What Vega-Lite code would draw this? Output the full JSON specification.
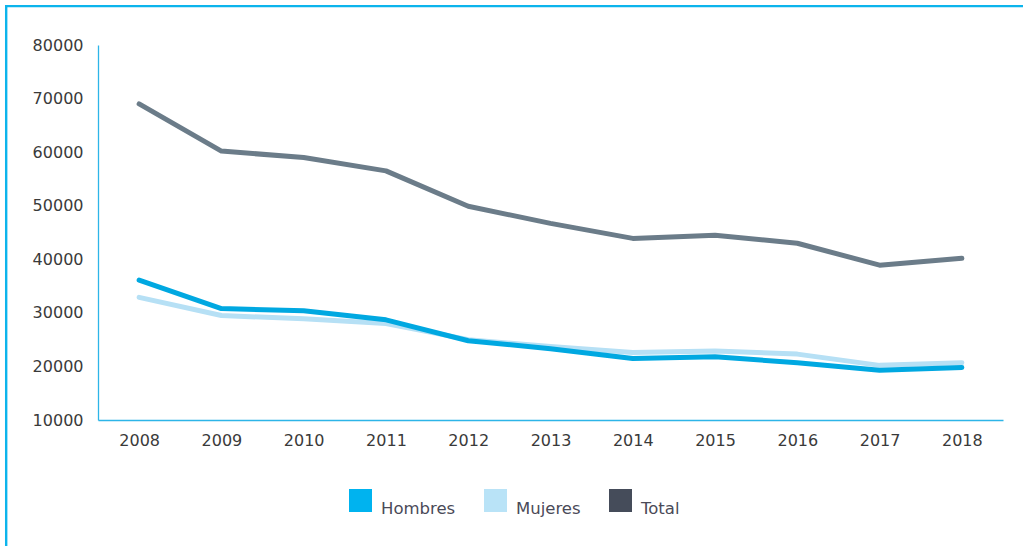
{
  "$schema": "https://vega.github.io/schema/vega-lite/v6.json",
  "autosize": {"type": "none"},
  "padding": {"top": 45, "left": 98, "right": 20, "bottom": 126},
  "width": 905,
  "height": 375,
  "background": "white",
  "config": {
    "view": {"stroke": null},
    "font": "DejaVu Sans"
  },
  "datasets": {
    "series": [
      {"year": 2008, "series": "Mujeres", "value": 32900},
      {"year": 2009, "series": "Mujeres", "value": 29500},
      {"year": 2010, "series": "Mujeres", "value": 28900},
      {"year": 2011, "series": "Mujeres", "value": 28000},
      {"year": 2012, "series": "Mujeres", "value": 25000},
      {"year": 2013, "series": "Mujeres", "value": 23700},
      {"year": 2014, "series": "Mujeres", "value": 22600},
      {"year": 2015, "series": "Mujeres", "value": 22900},
      {"year": 2016, "series": "Mujeres", "value": 22300},
      {"year": 2017, "series": "Mujeres", "value": 20200},
      {"year": 2018, "series": "Mujeres", "value": 20700},
      {"year": 2008, "series": "Hombres", "value": 36100},
      {"year": 2009, "series": "Hombres", "value": 30800},
      {"year": 2010, "series": "Hombres", "value": 30400},
      {"year": 2011, "series": "Hombres", "value": 28700},
      {"year": 2012, "series": "Hombres", "value": 24800},
      {"year": 2013, "series": "Hombres", "value": 23300},
      {"year": 2014, "series": "Hombres", "value": 21500},
      {"year": 2015, "series": "Hombres", "value": 21800},
      {"year": 2016, "series": "Hombres", "value": 20700},
      {"year": 2017, "series": "Hombres", "value": 19300},
      {"year": 2018, "series": "Hombres", "value": 19800},
      {"year": 2008, "series": "Total", "value": 69000},
      {"year": 2009, "series": "Total", "value": 60200},
      {"year": 2010, "series": "Total", "value": 59000},
      {"year": 2011, "series": "Total", "value": 56500},
      {"year": 2012, "series": "Total", "value": 49900},
      {"year": 2013, "series": "Total", "value": 46700},
      {"year": 2014, "series": "Total", "value": 43900},
      {"year": 2015, "series": "Total", "value": 44500},
      {"year": 2016, "series": "Total", "value": 43000},
      {"year": 2017, "series": "Total", "value": 38900},
      {"year": 2018, "series": "Total", "value": 40200}
    ],
    "legend": [
      {"grupo": "Hombres"},
      {"grupo": "Mujeres"},
      {"grupo": "Total"}
    ]
  },
  "layer": [
    {
      "data": {"values": [{"frame": "box"}]},
      "mark": {"type": "rect", "fill": null, "stroke": "#0CB4EC", "strokeWidth": 2.4, "clip": false},
      "encoding": {
        "x": {"datum": 2006.384, "type": "quantitative", "scale": {"domain": [2007.5, 2018.5], "nice": false, "zero": false}},
        "x2": {"datum": 2022},
        "y": {"datum": 87250, "type": "quantitative", "scale": {"domain": [10000, 80000], "nice": false, "zero": false}},
        "y2": {"datum": -30000}
      }
    },
    {
      "data": {"name": "series"},
      "mark": {"type": "line", "strokeWidth": 5, "strokeCap": "round", "strokeJoin": "round"},
      "encoding": {
        "x": {
          "field": "year", "type": "quantitative",
          "scale": {"domain": [2007.5, 2018.5], "nice": false, "zero": false},
          "axis": {
            "title": null, "values": [2008, 2009, 2010, 2011, 2012, 2013, 2014, 2015, 2016, 2017, 2018],
            "format": "d", "labelFlush": false, "ticks": false, "tickSize": 0, "grid": false,
            "domainColor": "#2DB5E8", "domainWidth": 1.3,
            "labelFont": "DejaVu Sans", "labelFontSize": 16, "labelColor": "#3A3A3A", "labelPadding": 12
          }
        },
        "y": {
          "field": "value", "type": "quantitative",
          "scale": {"domain": [10000, 80000], "nice": false, "zero": false},
          "axis": {
            "title": null, "values": [10000, 20000, 30000, 40000, 50000, 60000, 70000, 80000],
            "format": "d", "labelFlush": false, "ticks": false, "tickSize": 0, "grid": false,
            "domainColor": "#2DB5E8", "domainWidth": 1.3,
            "labelFont": "DejaVu Sans", "labelFontSize": 16, "labelColor": "#3A3A3A", "labelPadding": 15
          }
        },
        "stroke": {
          "field": "series", "type": "nominal",
          "scale": {"domain": ["Mujeres", "Hombres", "Total"], "range": ["#B6E0F5", "#00A8E1", "#6B7C89"]},
          "legend": null
        }
      }
    },
    {
      "data": {"name": "legend"},
      "mark": {"type": "square", "size": 0},
      "encoding": {
        "fill": {
          "field": "grupo", "type": "nominal",
          "scale": {"domain": ["Hombres", "Mujeres", "Total"], "range": ["#00B3EF", "#B9E3F7", "#454C5A"]},
          "legend": {
            "title": null, "orient": "none", "direction": "horizontal",
            "legendX": 251, "legendY": 444,
            "symbolType": "square", "symbolSize": 529, "symbolOpacity": 1, "symbolStrokeWidth": 0,
            "labelFont": "DejaVu Sans", "labelFontSize": 16.5, "labelColor": "#4A4A58",
            "labelBaseline": "top", "labelOffset": 9, "columnPadding": 28
          }
        }
      }
    }
  ]
}
